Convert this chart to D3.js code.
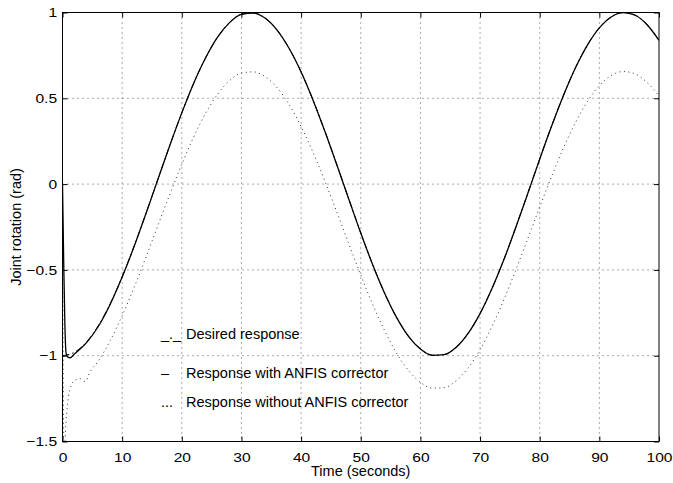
<!DOCTYPE html>
<html>
<head>
<meta charset="utf-8">
<script src="https://cdn.jsdelivr.net/npm/d3@7"></script>
<style>
  body { margin: 0; background: #fff; }
  text { font-family: "Liberation Sans", Arial, sans-serif; fill: #000; }
</style>
</head>
<body>
<div id="chart"></div>
<script>
// desired response, every 2 s
var desiredT = [0, 2, 4, 6, 8, 10, 12, 14, 16, 18, 20, 22, 24, 26, 28, 30, 32, 34, 36, 38, 40,
  42, 44, 46, 48, 50, 52, 54, 56, 58, 60, 62, 64, 66, 68, 70, 72, 74, 76, 78, 80,
  82, 84, 86, 88, 90, 92, 94, 96, 98, 100];
var desiredV = [-1, -0.98, -0.921, -0.825, -0.697, -0.54, -0.362, -0.17, 0.029, 0.227, 0.416,
  0.589, 0.737, 0.857, 0.942, 0.99, 0.998, 0.967, 0.897, 0.791, 0.654,
  0.49, 0.307, 0.112, -0.087, -0.284, -0.469, -0.635, -0.776, -0.886, -0.96,
  -0.997, -0.993, -0.95, -0.869, -0.754, -0.608, -0.439, -0.251, -0.054, 0.146,
  0.339, 0.519, 0.679, 0.811, 0.911, 0.975, 1, 0.985, 0.93, 0.839];

// response with ANFIS corrector
var anfisT = [0, 0.2, 0.4, 0.6, 0.9, 1.3, 2, 4, 6, 8, 10, 12, 14, 16, 18, 20, 22, 24, 26, 28, 30,
  32, 34, 36, 38, 40, 42, 44, 46, 48, 50, 52, 54, 56, 58, 60, 62, 64, 66, 68, 70,
  72, 74, 76, 78, 80, 82, 84, 86, 88, 90, 92, 94, 96, 98, 100];
var anfisV = [0, -0.45, -0.82, -0.985, -1.008, -1.012, -0.99, -0.925, -0.83, -0.7, -0.542, -0.364,
  -0.171, 0.028, 0.226, 0.415, 0.588, 0.736, 0.856, 0.941, 0.989,
  0.997, 0.966, 0.896, 0.79, 0.653, 0.489, 0.306, 0.111, -0.088, -0.285, -0.47, -0.636, -0.777, -0.887, -0.961,
  -0.998, -0.994, -0.951, -0.87, -0.755, -0.609, -0.44, -0.252, -0.055, 0.145,
  0.338, 0.518, 0.678, 0.81, 0.91, 0.974, 0.999, 0.984, 0.929, 0.838];

// response without ANFIS corrector
var plainT = [0, 0.25, 0.6, 1, 1.5, 2, 3, 3.8, 4.6, 6, 8, 10, 12, 14, 16, 18, 20, 22, 24, 26, 28, 30,
  32, 34, 36, 38, 40, 42, 44, 46, 48, 50, 52, 54, 56, 58, 60, 62, 64, 66, 68, 70,
  72, 74, 76, 78, 80, 82, 84, 86, 88, 90, 92, 94, 96, 98, 100];
var plainV = [0, -1.6, -1.38, -1.24, -1.17, -1.145, -1.135, -1.15, -1.095, -1.031, -0.912, -0.767,
  -0.603, -0.425, -0.241, -0.058, 0.116, 0.276, 0.413, 0.524, 0.603, 0.647,
  0.654, 0.625, 0.561, 0.463, 0.336, 0.185, 0.016, -0.164, -0.349, -0.53, -0.701, -0.854, -0.985, -1.086,
  -1.155, -1.189, -1.186, -1.146, -1.071, -0.965, -0.83, -0.673, -0.5, -0.318, -0.134,
  0.045, 0.212, 0.359, 0.481, 0.574, 0.633, 0.656, 0.642, 0.592, 0.515];

var xTicks = [0, 10, 20, 30, 40, 50, 60, 70, 80, 90, 100];
var yTicks = [-1.5, -1, -0.5, 0, 0.5, 1];

var legendItems = [
  { mark: "_._", label: "Desired response" },
  { mark: "\u2013", label: "Response with ANFIS corrector" },
  { mark: "...", label: "Response without ANFIS corrector" }
];

var width = 673,
    height = 483,
    margin = { left: 62.5, right: 14, top: 12.5, bottom: 41.5 };

var iw = width - margin.left - margin.right,
    ih = height - margin.top - margin.bottom;

var x = d3.scaleLinear().domain([0, 100]).range([0, iw]);
var y = d3.scaleLinear().domain([-1.5, 1]).range([ih, 0]);

var svg = d3.select("#chart").append("svg")
    .attr("width", width)
    .attr("height", height);

svg.append("defs").append("clipPath")
    .attr("id", "plotclip")
  .append("rect")
    .attr("width", iw)
    .attr("height", ih);

var g = svg.append("g")
    .attr("transform", "translate(" + margin.left + "," + margin.top + ")");

// dotted grid
g.append("g").selectAll("line")
    .data(xTicks.slice(1, -1))
  .enter().append("line")
    .attr("x1", function(d) { return x(d); })
    .attr("x2", function(d) { return x(d); })
    .attr("y1", 0)
    .attr("y2", ih)
    .attr("stroke", "#555")
    .attr("stroke-dasharray", "1,4");

g.append("g").selectAll("line")
    .data(yTicks.slice(1, -1))
  .enter().append("line")
    .attr("y1", function(d) { return y(d); })
    .attr("y2", function(d) { return y(d); })
    .attr("x1", 0)
    .attr("x2", iw)
    .attr("stroke", "#555")
    .attr("stroke-dasharray", "1,4");

// curves
var line = d3.line()
    .x(function(d) { return x(d[0]); })
    .y(function(d) { return y(d[1]); })
    .curve(d3.curveMonotoneX);

var curves = g.append("g").attr("clip-path", "url(#plotclip)");

curves.append("path")
    .attr("d", line(d3.zip(plainT, plainV)))
    .attr("fill", "none")
    .attr("stroke", "#333")
    .attr("stroke-width", 1)
    .attr("stroke-dasharray", "1,3.5");

curves.append("path")
    .attr("d", line(d3.zip(anfisT, anfisV)))
    .attr("fill", "none")
    .attr("stroke", "#000")
    .attr("stroke-width", 1.3);

curves.append("path")
    .attr("d", line(d3.zip(desiredT, desiredV)))
    .attr("fill", "none")
    .attr("stroke", "#000")
    .attr("stroke-width", 1)
    .attr("stroke-dasharray", "7,3,1.5,3");

// axes, ticks pointing inward on all four sides
var fmt = d3.format("~g");

var xb = g.append("g")
    .attr("transform", "translate(0," + ih + ")")
    .call(d3.axisBottom(x).tickValues(xTicks).tickSizeInner(-5).tickSizeOuter(0).tickPadding(11).tickFormat(fmt));
var xt = g.append("g")
    .call(d3.axisTop(x).tickValues(xTicks).tickSizeInner(-5).tickSizeOuter(0).tickFormat(""));
var yl = g.append("g")
    .call(d3.axisLeft(y).tickValues(yTicks).tickSizeInner(-5).tickSizeOuter(0).tickPadding(6).tickFormat(fmt));
var yr = g.append("g")
    .attr("transform", "translate(" + iw + ",0)")
    .call(d3.axisRight(y).tickValues(yTicks).tickSizeInner(-5).tickSizeOuter(0).tickFormat(""));

[xb, xt, yl, yr].forEach(function(a) {
  a.select(".domain").remove();
  a.selectAll("line").attr("stroke", "#000");
  a.selectAll("text")
      .attr("font-family", "Liberation Sans, Arial, sans-serif")
      .attr("font-size", 13)
      .attr("fill", "#000");
});

// tick labels look a bit wide in the original
xb.selectAll("text").attr("transform", "scale(1.2,1)");
yl.selectAll("text").attr("transform", "scale(1.2,1)").attr("x", -4.5);

// frame
g.append("rect")
    .attr("width", iw)
    .attr("height", ih)
    .attr("fill", "none")
    .attr("stroke", "#000")
    .attr("stroke-width", 1);

// axis titles
svg.append("text")
    .attr("x", margin.left + iw / 2)
    .attr("y", 476)
    .attr("text-anchor", "middle")
    .attr("font-size", 14.5)
    .text("Time (seconds)");

svg.append("text")
    .attr("transform", "translate(21," + (margin.top + ih / 2) + ")rotate(-90)")
    .attr("text-anchor", "middle")
    .attr("font-size", 14.5)
    .text("Joint rotation (rad)");

// legend, plain text like the original
var legendY = [339, 378, 407];

var leg = svg.append("g").selectAll("g")
    .data(legendItems)
  .enter().append("g")
    .attr("transform", function(d, i) { return "translate(0," + legendY[i] + ")"; });

leg.append("text")
    .attr("x", 161)
    .attr("font-size", 14.5)
    .text(function(d) { return d.mark; });

leg.append("text")
    .attr("x", 186)
    .attr("font-size", 14.5)
    .text(function(d) { return d.label; });
</script>
</body>
</html>
